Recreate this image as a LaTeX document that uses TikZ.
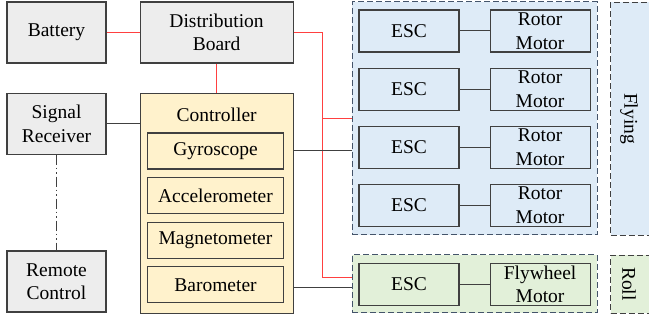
\documentclass[tikz,border=0pt]{standalone}
\usepackage{fontspec}
\setmainfont{Liberation Serif}
\usetikzlibrary{positioning}
\definecolor{boxgray}{HTML}{EDEDED}
\definecolor{linegray}{HTML}{404040}
\definecolor{ctrlyellow}{HTML}{FFF2CC}
\definecolor{flyblue}{HTML}{DEEBF7}
\definecolor{rollgreen}{HTML}{E2F0D9}
\definecolor{groupedge}{HTML}{44546A}
\definecolor{powerred}{HTML}{FF4040}

\begin{document}
\begin{tikzpicture}[x=1pt, y=-1pt,
    font=\fontsize{19.5pt}{23.5pt}\selectfont,
    unit/.style={draw=linegray, line width=1.1pt, fill=boxgray, align=center, inner sep=0pt, minimum width=99pt, minimum height=61pt},
    sensor/.style={draw=linegray, line width=1.1pt, fill=ctrlyellow, inner sep=0pt, minimum width=136pt, minimum height=36pt},
    drive/.style={draw=linegray, line width=1.1pt, align=center, inner sep=0pt, minimum width=100pt, minimum height=42pt},
    group/.style={draw=groupedge, line width=1pt, dash pattern=on 6pt off 3pt, inner sep=0pt},
    tag/.style={draw=linegray, line width=1pt, dash pattern=on 6pt off 3pt, inner sep=0pt, anchor=north west, minimum width=50pt},
    power/.style={draw=powerred, line width=1pt},
    signal/.style={draw=linegray, line width=1pt}]
    \useasboundingbox (0,0) rectangle (649,320);

    % left column
    \node (battery) [unit] at (56.5,32.5) {Battery};
    \node (dist) [unit, minimum width=153pt, right=33pt of battery] {Distribution\\Board};
    \node (receiver) [unit, below=29pt of battery] {Signal\\Receiver};
    \node (remote) [unit] at (56.5,281.5) {Remote\\Control};

    % controller with its sensors
    \node (ctrl) [draw=linegray, line width=1.1pt, fill=ctrlyellow, minimum width=153pt, minimum height=220pt, inner sep=0pt, below=29pt of dist] {};
    \node (ctrltitle) at ([yshift=-22pt]ctrl.north) {Controller};
    \node (gyro) [sensor] at (215.5,151) {Gyroscope};
    \node (accel) [sensor, below=7.5pt of gyro] {Accelerometer};
    \node (magnet) [sensor, below=7.5pt of accel] {Magnetometer};
    \node (baro) [sensor, below=7.5pt of magnet] {Barometer};

    % flying group
    \node (flying) [group, fill=flyblue, minimum width=245pt, minimum height=233pt] at (474.5,118.5) {};
    \node (esc1) [drive, fill=flyblue] at (409,31) {ESC};
    \node (esc2) [drive, fill=flyblue, below=15pt of esc1] {ESC};
    \node (esc3) [drive, fill=flyblue, below=15pt of esc2] {ESC};
    \node (esc4) [drive, fill=flyblue, below=15pt of esc3] {ESC};
    \node (rotor1) [drive, fill=flyblue, right=30pt of esc1] {Rotor\\Motor};
    \node (rotor2) [drive, fill=flyblue, right=30pt of esc2] {Rotor\\Motor};
    \node (rotor3) [drive, fill=flyblue, right=30pt of esc3] {Rotor\\Motor};
    \node (rotor4) [drive, fill=flyblue, right=30pt of esc4] {Rotor\\Motor};

    % roll group
    \node (roll) [group, fill=rollgreen, minimum width=245pt, minimum height=58pt] at (474.5,284) {};
    \node (escr) [drive, fill=rollgreen] at (409,284.5) {ESC};
    \node (flywheel) [drive, fill=rollgreen, right=30pt of escr] {Flywheel\\Motor};

    % mode tags
    \node (flytag) [tag, fill=flyblue, minimum height=233pt] at (610,2) {};
    \node (flytext) [rotate=-90] at (629,118.5) {Flying};
    \node (rolltag) [tag, fill=rollgreen, minimum height=58pt] at (610,255) {};
    \node (rolltext) [rotate=-90] at (629,284) {Roll};

    % power lines
    \coordinate (split) at (322,118.5);
    \draw[power] (battery) -- (dist);
    \draw[power] (dist) -- (ctrl);
    \draw[power] (dist) -| (split) -- (flying.west);
    \draw[power] (split) |- ([yshift=6pt]roll.west);

    % signal lines
    \draw[signal] (receiver) -- (receiver -| ctrl.west);
    \draw[signal, dash pattern=on 10pt off 3pt on 1.5pt off 3pt on 1.5pt off 3pt] (receiver) -- (remote);
    \draw[signal] (gyro -| ctrl.east) -- (gyro -| flying.west);
    \draw[signal] ([yshift=-4pt]roll.west -| ctrl.east) -- ([yshift=-4pt]roll.west);
    \draw[signal] (esc1) -- (rotor1);
    \draw[signal] (esc2) -- (rotor2);
    \draw[signal] (esc3) -- (rotor3);
    \draw[signal] (esc4) -- (rotor4);
    \draw[signal] (escr) -- (flywheel);
\end{tikzpicture}
\end{document}
